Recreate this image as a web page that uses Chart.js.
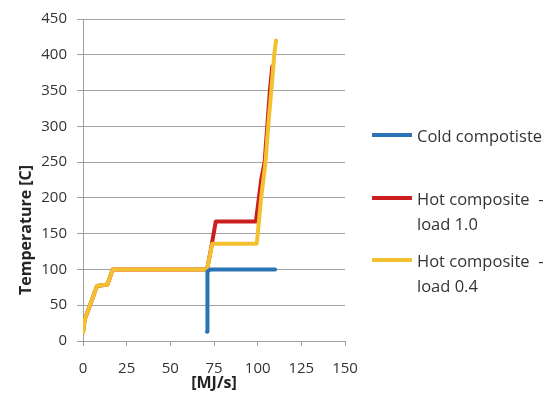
<!DOCTYPE html>
<html><head><meta charset="utf-8">
<script src="https://cdn.jsdelivr.net/npm/chart.js@4.4.0/dist/chart.umd.min.js"></script>
<style>
html,body{margin:0;padding:0;background:#fff;}
#wrap{position:relative;width:557px;height:396px;overflow:hidden;}
canvas{position:absolute;left:0;top:0;}
.ytitle{position:absolute;font:bold 16px "Open Sans";color:#222;left:25px;top:230px;transform:translate(-50%,-50%) rotate(-90deg);white-space:nowrap;}
.legitem{position:absolute;left:372px;font:16.5px "Open Sans";color:#333;}
.legline{position:absolute;left:0;width:40px;height:4px;}
.legtext{position:absolute;left:45px;line-height:25px;white-space:pre;}
</style>
</head><body>
<div id="wrap">
<canvas id="c" width="557" height="396"></canvas>
<div class="ytitle" id="yt"></div>
<div id="legend"></div>
</div>
<script>
const seriesNames = ["Cold compotiste", "Hot composite  -\nload 1.0", "Hot composite  -\nload 0.4"];
const seriesColors = ["#2a74b5", "#cc1e1e", "#f4c12e"];
const xTitle = "[MJ/s]";
const yTitle = "Temperature [C]";
const xTicks = [0, 25, 50, 75, 100, 125, 150];
const yTicks = [0, 50, 100, 150, 200, 250, 300, 350, 400, 450];

const coldX = [71, 71, 71.5, 73, 110];
const coldY = [13, 90, 97, 100, 100];

const hot10X = [0, 1, 4, 8, 14, 17, 71, 73, 76, 99, 102, 104, 105.5, 107, 108.4];
const hot10Y = [12, 30, 50, 77, 79, 100, 100, 125, 167, 167, 225, 250, 300, 350, 384];

const hot04X = [0, 1, 4, 8, 14, 17, 71, 74, 99.5, 102, 104.5, 106, 107.8, 109.5, 110.5];
const hot04Y = [12, 30, 50, 77, 79, 100, 100, 136, 136, 200, 250, 300, 350, 400, 420];

const pts = (xs, ys) => xs.map((x, i) => ({x: x, y: ys[i]}));

document.getElementById('yt').textContent = yTitle;

// legend (HTML text)
const legTops = [123, 186, 248];
const leg = document.getElementById('legend');
seriesNames.forEach((n, i) => {
  const it = document.createElement('div');
  it.className = 'legitem';
  it.style.top = legTops[i] + 'px';
  const ln = document.createElement('div');
  ln.className = 'legline';
  ln.style.background = seriesColors[i];
  ln.style.top = '10px';
  const tx = document.createElement('div');
  tx.className = 'legtext';
  tx.textContent = n;
  it.appendChild(ln); it.appendChild(tx);
  leg.appendChild(it);
});

const gridCol = '#a0a0a0';
const tickFont = {family: 'Open Sans', size: 15};

new Chart(document.getElementById('c'), {
  type: 'line',
  data: {
    datasets: [
      {label: seriesNames[0], data: pts(coldX, coldY), borderColor: seriesColors[0], order: 0},
      {label: seriesNames[1], data: pts(hot10X, hot10Y), borderColor: seriesColors[1], order: 2},
      {label: seriesNames[2], data: pts(hot04X, hot04Y), borderColor: seriesColors[2], order: 1}
    ]
  },
  options: {
    responsive: false,
    animation: false,
    layout: {padding: {left: 0, right: 212, top: 14, bottom: 0}},
    plugins: {legend: {display: false}, tooltip: {enabled: false}},
    elements: {point: {radius: 0}, line: {borderWidth: 4, tension: 0, fill: false, borderCapStyle: 'round', borderJoinStyle: 'round'}},
    scales: {
      x: {
        type: 'linear', min: 0, max: 150,
        afterBuildTicks: s => { s.ticks = xTicks.map(v => ({value: v})); },
        ticks: {font: tickFont, color: '#333', padding: 14, maxRotation: 0},
        grid: {drawOnChartArea: false, tickLength: 5, color: gridCol},
        border: {color: gridCol},
        title: {display: true, text: xTitle, font: {family: 'Open Sans', size: 16, weight: 'bold'}, color: '#222', padding: {top: 0, bottom: 3}},
        afterFit: s => { s.height = 55; }
      },
      y: {
        type: 'linear', min: 0, max: 450,
        afterBuildTicks: s => { s.ticks = yTicks.map(v => ({value: v})); },
        ticks: {font: tickFont, color: '#333', padding: 10},
        grid: {color: gridCol, tickLength: 6},
        border: {color: gridCol},
        afterFit: s => { s.width = 83; }
      }
    }
  }
});
</script>
</body></html>
